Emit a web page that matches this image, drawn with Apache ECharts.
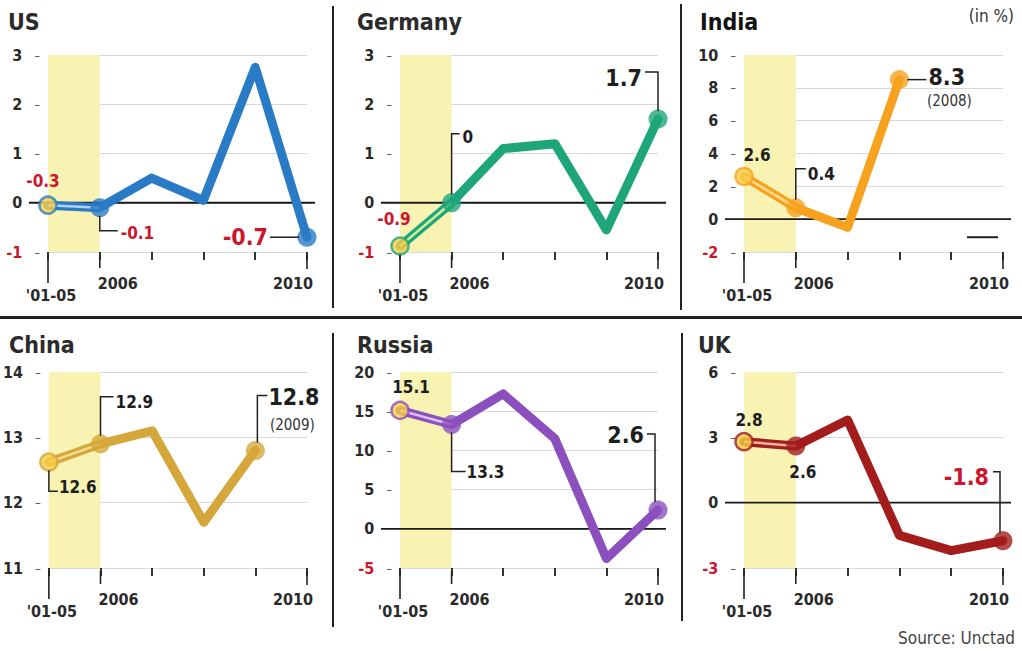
<!DOCTYPE html>
<html><head><meta charset="utf-8">
<script src="https://cdn.jsdelivr.net/npm/echarts@6/dist/echarts.min.js"></script>
<style>html,body{margin:0;padding:0;background:#fff}#c{width:1022px;height:651px}</style>
</head><body><div id="c"></div>
<script>
// ---------- DATA ----------
const categories = ["'01-05", "2006", "2007", "2008", "2009", "2010"];
const usValues      = [-0.05, -0.1, 0.5, 0.05, 2.75, -0.7];
const germanyValues = [-0.88, 0, 1.1, 1.2, -0.55, 1.7];
const indiaValues   = [2.6, 0.7, -0.5, 8.5, null, null];
const chinaValues   = [12.62, 12.9, 13.1, 11.7, 12.8, null];
const russiaValues  = [15.1, 13.3, 17.2, 11.5, -3.8, 2.4];
const ukValues      = [2.8, 2.6, 3.8, -1.5, -2.2, -1.75];
const usTicks = [-1, 3, 1], germanyTicks = [-1, 3, 1], indiaTicks = [-2, 10, 2];
const chinaTicks = [11, 14, 1], russiaTicks = [-5, 20, 5], ukTicks = [-3, 6, 3];
const panelNames = ['US', 'Germany', 'India', 'China', 'Russia', 'UK'];
const noteTexts = ['-0.3','-0.1','-0.7','-0.9','0','1.7','2.6','0.4','8.3','12.6','12.9','12.8','15.1','13.3','2.6','2.8','2.6','-1.8'];

// ---------- LAYOUT / STYLE ----------
const F = "'DejaVu Sans Condensed','Liberation Sans Narrow',sans-serif";
const RED = '#c8172f', INK = '#1e1e1e';
const panels = [
  {name: panelNames[0], values: usValues, ticks: usTicks, color: '#2a7bc6', light: '#b3d1ee', g: [48, 55, 259, 197]},
  {name: panelNames[1], values: germanyValues, ticks: germanyTicks, color: '#1ea57a', light: '#d6ee9c', g: [400, 55, 258, 197]},
  {name: panelNames[2], values: indiaValues, ticks: indiaTicks, color: '#f6a21e', light: '#ffdc8c', g: [744, 55, 259, 197]},
  {name: panelNames[3], values: chinaValues, ticks: chinaTicks, color: '#d5a73a', light: '#f3dc94', g: [48, 372, 259, 196]},
  {name: panelNames[4], values: russiaValues, ticks: russiaTicks, color: '#8b50bd', light: '#dcc2f0', g: [400, 372, 258, 196]},
  {name: panelNames[5], values: ukValues, ticks: ukTicks, color: '#a31d1d', light: '#f0b59a', g: [744, 372, 259, 196]}
];
const titlePos = [[8, 22], [357, 22], [700, 22], [9, 345], [357, 345], [698, 345]];
const LBL = 17, BIG = 23;
// annotations: panel, point index, text index, style/offsets
const notes = [
  {p:0,i:0,k:0,red:1,fs:LBL,tx:-5,ty:-24,al:'center'},
  {p:0,i:1,k:1,red:1,fs:LBL,path:[[0,8],[0,23],[18,23]],tx:21,ty:25,al:'left'},
  {p:0,i:5,k:2,red:1,fs:BIG,path:[[-8,0],[-37,0]],tx:-39,ty:0,al:'right'},
  {p:1,i:0,k:3,red:1,fs:LBL,tx:-6,ty:-27,al:'center'},
  {p:1,i:1,k:4,fs:LBL,path:[[0,-8],[0,-69],[8,-69]],tx:11,ty:-66,al:'left'},
  {p:1,i:5,k:5,fs:BIG,path:[[0,-8],[0,-47],[-13,-47]],tx:-16,ty:-41,al:'right'},
  {p:2,i:0,k:6,fs:LBL,tx:13,ty:-21,al:'center'},
  {p:2,i:1,k:7,fs:LBL,path:[[0,-8],[0,-39],[10,-39]],tx:12,ty:-34,al:'left'},
  {p:2,i:3,k:8,fs:BIG,path:[[8,0],[27,0]],tx:29,ty:-3,al:'left',sub:'(2008)',sx:50,sy:21},
  {p:3,i:0,k:9,fs:LBL,path:[[0,8],[0,29],[9,29]],tx:10,ty:25,al:'left'},
  {p:3,i:1,k:10,fs:LBL,path:[[0,-8],[0,-47],[13,-47]],tx:15,ty:-42,al:'left'},
  {p:3,i:4,k:11,fs:BIG,path:[[2,-8],[2,-55],[12,-55]],tx:13,ty:-53,al:'left',sub:'(2009)',sx:37,sy:-25},
  {p:4,i:0,k:12,fs:LBL,tx:11,ty:-23,al:'center'},
  {p:4,i:1,k:13,fs:LBL,path:[[0,8],[0,47],[14,47]],tx:15,ty:47,al:'left'},
  {p:4,i:5,k:14,fs:BIG,path:[[-3,-8],[-3,-76],[-11,-76]],tx:-14,ty:-75,al:'right'},
  {p:5,i:0,k:15,fs:LBL,tx:5,ty:-22,al:'center'},
  {p:5,i:1,k:16,fs:LBL,tx:7,ty:26,al:'center'},
  {p:5,i:5,k:17,red:1,fs:BIG,path:[[-3,-8],[-3,-69],[-10,-69]],tx:-14,ty:-64,al:'right'}
];

const chart = echarts.init(document.getElementById('c'), null, {renderer: 'svg'});

const XF = 16;
const grids = [], xAxes = [], yAxes = [], series = [];
panels.forEach((P, k) => {
  grids.push({left: P.g[0], top: P.g[1], width: P.g[2], height: P.g[3], containLabel: false});
  const xs = {fontFamily: F, fontSize: XF, fontWeight: 'bold', color: '#2a2a2a'};
  xAxes.push({
    gridIndex: k, type: 'category', data: categories, boundaryGap: false,
    axisLine: {show: false, onZero: false},
    axisTick: {show: true, interval: 0, length: 8, lineStyle: {color: '#333', width: 2}},
    axisLabel: {
      interval: 0, margin: 23, fontFamily: F, fontSize: XF, fontWeight: 'bold', color: '#2a2a2a',
      formatter: (v, i) => i === 0 ? '{f|' + v + '}' : i === 1 ? '{s|' + v + '}' : i === 5 ? '{e|' + v + '}' : '',
      rich: {
        f: Object.assign({padding: [12, 0, 0, 6]}, xs),
        s: Object.assign({padding: [0, 0, 0, 36]}, xs),
        e: Object.assign({padding: [0, 28, 0, 0]}, xs)
      }
    },
    splitLine: {show: false}
  });
  yAxes.push({
    gridIndex: k, type: 'value', min: P.ticks[0], max: P.ticks[1], interval: P.ticks[2],
    axisLine: {show: false}, axisTick: {show: false},
    splitLine: {lineStyle: {color: '#d8d8d8', width: 1}},
    axisLabel: {
      margin: 8,
      formatter: v => v === 0 ? '{n|0}{g|–}' : (v < 0 ? '{r|' + v + '}' : '{n|' + v + '}') + '{d|–}',
      rich: {
        n: {fontFamily: F, fontSize: 16, fontWeight: 'bold', color: '#2a2a2a'},
        r: {fontFamily: F, fontSize: 16, fontWeight: 'bold', color: RED},
        d: {fontFamily: F, fontSize: 13, color: '#555', padding: [0, 0, 0, 12]},
        g: {fontFamily: F, fontSize: 13, color: 'rgba(0,0,0,0)', padding: [0, 0, 0, 12]}
      }
    }
  });
  // yellow band
  series.push({
    type: 'line', xAxisIndex: k, yAxisIndex: k, data: [], z: 1, silent: true,
    markArea: {silent: true, itemStyle: {color: '#f8f3b3'}, data: [[{xAxis: categories[0]}, {xAxis: categories[1]}]]}
  });
  // main line
  series.push({
    type: 'line', xAxisIndex: k, yAxisIndex: k, data: P.values, z: 3, symbol: 'none',
    connectNulls: false, lineStyle: {color: P.color, width: 9, cap: 'round', join: 'round'}, silent: true
  });
  // light core on the first segment
  series.push({
    type: 'line', xAxisIndex: k, yAxisIndex: k, z: 4, symbol: 'none', silent: true,
    data: P.values.map((v, i) => i < 2 ? v : null),
    lineStyle: {color: P.light, width: 2.5}
  });
  // markers
  let last = 0;
  P.values.forEach((v, i) => { if (v !== null) last = i; });
  series.push({
    type: 'scatter', xAxisIndex: k, yAxisIndex: k, z: 5, silent: true,
    data: [0, 1, last].map(i => i === 0
      ? {value: [categories[i], P.values[i]], symbolSize: 17, itemStyle: {color: '#f7cd47', borderColor: P.color, borderWidth: 2.5}}
      : {value: [categories[i], P.values[i]], symbolSize: 19, itemStyle: {color: P.color}})
  });
});

chart.setOption({
  animation: false, backgroundColor: '#ffffff',
  grid: grids, xAxis: xAxes, yAxis: yAxes, series: series
});

// ---------- graphics derived from the axes ----------
const gfx = [];
const txt = (x, y, text, o) => gfx.push({type: 'text', x: x, y: y, z: 10, silent: true, style: Object.assign({
  text: text, fontFamily: F, fontWeight: 'bold', fill: INK, fontSize: 18,
  align: 'left', verticalAlign: 'middle', textAlign: 'left', textVerticalAlign: 'middle'}, o || {})});
const line = (pts, o) => gfx.push({type: 'polyline', z: 9, silent: true, shape: {points: pts},
  style: Object.assign({stroke: '#222', lineWidth: 1.5, fill: null}, o || {})});

panels.forEach((P, k) => {
  const toPx = (i, v) => chart.convertToPixel({gridIndex: k}, [categories[i], v]);
  const bottom = P.g[1] + P.g[3];
  // zero line
  if (P.ticks[0] < 0) {
    const z0 = toPx(0, 0)[1];
    line([[P.g[0] - 19, z0], [P.g[0] + P.g[2] + 8, z0]], {stroke: '#1a1a1a', lineWidth: 1.8});
    gfx[gfx.length - 1].z = 2;
  }
  // long ticks for labelled categories
  const x0 = toPx(0, P.ticks[0])[0], x1 = toPx(1, P.ticks[0])[0], x5 = toPx(5, P.ticks[0])[0];
  line([[x0, bottom + 3], [x0, bottom + 31]], {lineWidth: 1.6});
  line([[x1, bottom + 3], [x1, bottom + 16]], {lineWidth: 1.6});
  line([[x5, bottom + 3], [x5, bottom + 17]], {lineWidth: 1.6});
  // title
  const tp = titlePos[k];
  txt(tp[0], tp[1], P.name, {fontSize: 23, fill: k === 2 ? '#111' : '#2b2b2b'});
});

notes.forEach(n => {
  const P = panels[n.p];
  const pt = chart.convertToPixel({gridIndex: n.p}, [categories[n.i], P.values[n.i]]);
  if (n.path) line(n.path.map(d => [pt[0] + d[0], pt[1] + d[1]]));
  txt(pt[0] + n.tx, pt[1] + n.ty, noteTexts[n.k], {fontSize: n.fs, fill: n.red ? RED : INK, align: n.al, textAlign: n.al});
  if (n.sub) txt(pt[0] + n.sx, pt[1] + n.sy, n.sub, {fontSize: 15, fontWeight: 'normal', fill: '#333', align: 'center', textAlign: 'center'});
});

// India: n/a dash near 2010
(function () {
  const p = chart.convertToPixel({gridIndex: 2}, [categories[5], -1.1]);
  line([[p[0] - 36, p[1]], [p[0] - 5, p[1]]], {lineWidth: 2});
})();

// dividers
gfx.push({type: 'rect', z: 10, silent: true, shape: {x: 0, y: 316, width: 1022, height: 3}, style: {fill: '#222'}});
[[332, 6, 302], [680, 4, 306], [332, 333, 294], [681, 333, 288]].forEach(d =>
  gfx.push({type: 'rect', z: 10, silent: true, shape: {x: d[0], y: d[1], width: 2, height: d[2]}, style: {fill: '#222'}}));

txt(1014, 16, '(in %)', {fontSize: 17, fontWeight: 'normal', fill: '#333', align: 'right', textAlign: 'right'});
txt(1015, 638, 'Source: Unctad', {fontSize: 17, fontWeight: 'normal', fill: '#444', align: 'right', textAlign: 'right'});

chart.setOption({graphic: {elements: gfx}});
</script>
</body></html>
